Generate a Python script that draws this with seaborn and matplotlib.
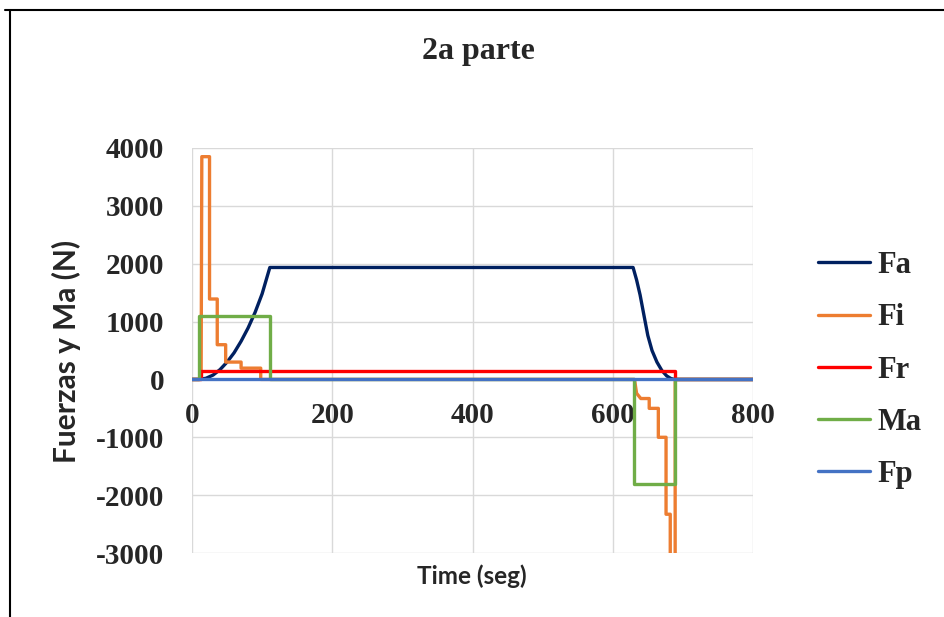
import matplotlib
matplotlib.use("Agg")
import matplotlib.pyplot as plt
from matplotlib.lines import Line2D
import seaborn as sns
import pandas as pd

# ---- data ----
fa_t = [0, 10, 20, 30, 40, 50, 60, 70, 80, 90, 100, 111, 629, 634, 639, 644, 650, 656, 663, 670, 677, 683, 688, 800]
fa_v = [0, 0, 20, 75, 170, 300, 460, 660, 890, 1160, 1480, 1935, 1935, 1720, 1460, 1140, 760, 500, 300, 155, 60, 15, 0, 0]

fi_t = [0, 13, 14, 25, 25, 36, 36, 48, 48, 70, 70, 98, 98, 631, 634, 640, 652, 652, 665, 665, 676, 676, 682, 682, 689, 689, 800]
fi_v = [0, 0, 3850, 3850, 1390, 1390, 600, 600, 300, 300, 195, 195, 0, 0, -240, -330, -330, -500, -500, -1000, -1000, -2330, -2330, -8000, -8000, 0, 0]

fr_t = [0, 13, 13, 689, 689, 800]
fr_v = [0, 0, 140, 140, 0, 0]

ma_t = [0, 10, 10, 111, 111, 630, 630, 689, 689, 800]
ma_v = [0, 0, 1090, 1090, 0, 0, -1800, -1800, 0, 0]

fp_t = [0, 800]
fp_v = [0, 0]

series = ["Fa", "Fi", "Fr", "Ma", "Fp"]
colors = ["#002060", "#ED7D31", "#FF0000", "#70AD47", "#4472C4"]
x_ticks = [0, 200, 400, 600, 800]
y_ticks = [-3000, -2000, -1000, 0, 1000, 2000, 3000, 4000]

title = "2a parte"
x_label = "Time (seg)"
y_label = "Fuerzas y Ma (N)"

# ---- build long table ----
frames = []
for name, t, v in zip(series, [fa_t, fi_t, fr_t, ma_t, fp_t], [fa_v, fi_v, fr_v, ma_v, fp_v]):
    frames.append(pd.DataFrame({"t": t, "v": v, "serie": name}))
df = pd.concat(frames, ignore_index=True)

sns.set_theme(style="white")
plt.rcParams["font.family"] = ["Liberation Serif", "DejaVu Serif"]

fig = plt.figure(figsize=(9.45, 6.17), dpi=100)
ax = fig.add_axes([192 / 945, 1 - 553 / 617, (753 - 192) / 945, (553 - 148) / 617])

sns.lineplot(data=df, x="t", y="v", hue="serie", hue_order=series,
             palette=dict(zip(series, colors)), estimator=None, sort=False,
             linewidth=2.4, ax=ax, legend=True)

ax.set_xlim(0, 800)
ax.set_ylim(-3000, 4000)
ax.set_xticks(x_ticks)
ax.set_yticks(y_ticks)
ax.set_xticklabels([str(x) for x in x_ticks])
ax.set_yticklabels([str(y) for y in y_ticks])
ax.grid(True, color="#d9d9d9", linewidth=1.0)
ax.set_axisbelow(True)
for s in ax.spines.values():
    s.set_visible(False)
ax.spines["bottom"].set_position(("data", 0))
ax.tick_params(axis="x", length=0, pad=16, labelsize=21)
ax.tick_params(axis="y", length=0, pad=20, labelsize=21)
for lab in ax.get_xticklabels() + ax.get_yticklabels():
    lab.set_fontweight("bold")
    lab.set_fontfamily("Liberation Serif")
ax.set_xlabel("")
ax.set_ylabel("")

fig.text(0.506, 1 - 52 / 617, title, ha="center", va="center",
         fontsize=23, fontweight="bold", family="Liberation Serif")
fig.text(472 / 945, 1 - 576 / 617, x_label, ha="center", va="center",
         fontsize=17.5, fontweight="bold", family="Lato")
fig.text(66 / 945, 1 - 351 / 617, y_label, ha="center", va="center", rotation=90,
         fontsize=21.5, fontweight="bold", family="Lato")

handles, labels = ax.get_legend_handles_labels()
ax.legend_.remove()
leg = fig.legend(handles, labels, loc="center left",
                 bbox_to_anchor=(818 / 945, 1 - 370 / 617),
                 frameon=False, borderpad=0, borderaxespad=0,
                 handlelength=1.7, handletextpad=0.25, labelspacing=0.76,
                 prop={"family": "Liberation Serif", "weight": "bold", "size": 22})
for h in leg.get_lines():
    h.set_linewidth(2.4)

# outer chart border (cropped on right and bottom)
fig.add_artist(Line2D([5 / 945, 1], [1 - 10 / 617, 1 - 10 / 617], color="black", linewidth=1.5,
                      transform=fig.transFigure))
fig.add_artist(Line2D([10 / 945, 10 / 945], [0, 1 - 10 / 617], color="black", linewidth=1.5,
                      transform=fig.transFigure))

fig.savefig("out.png", dpi=100)
